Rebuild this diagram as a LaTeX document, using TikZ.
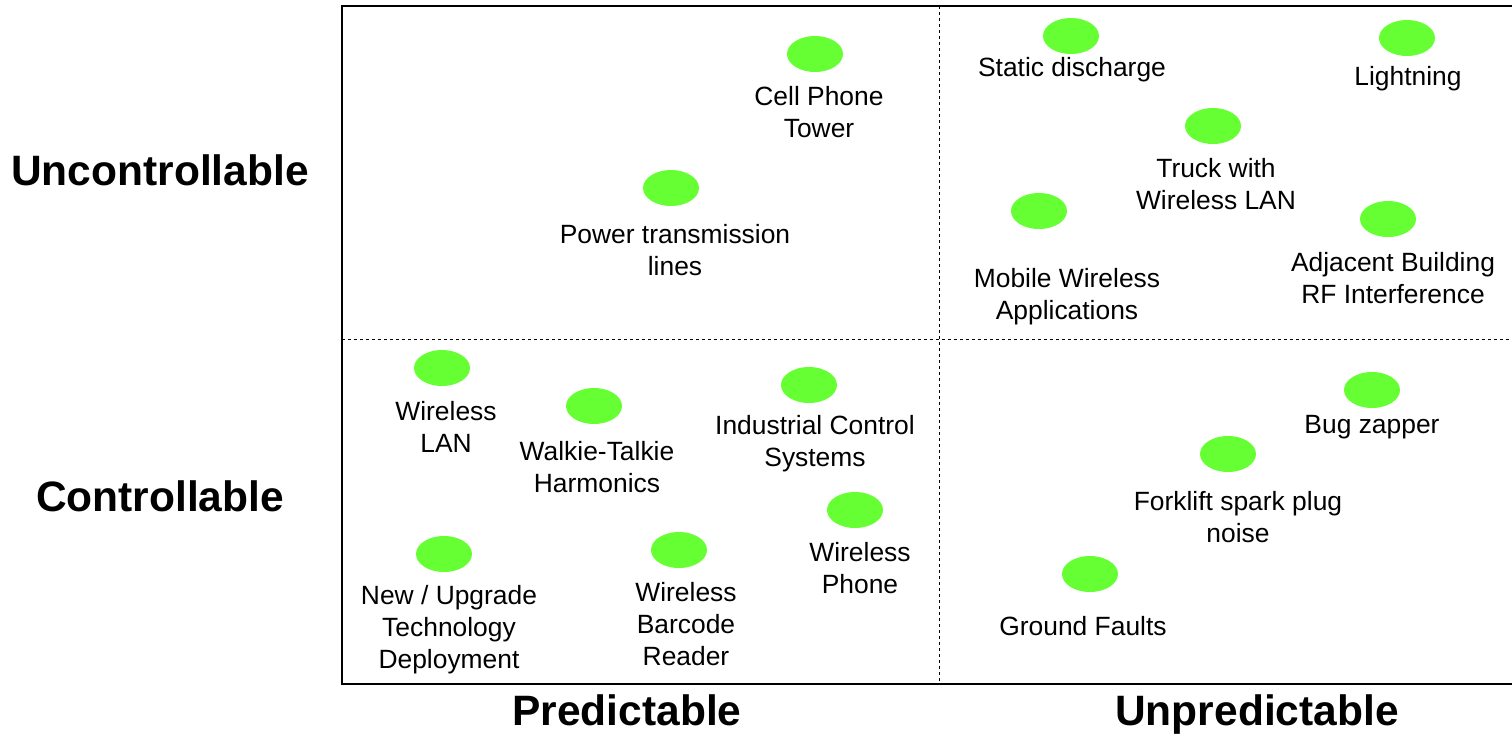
\documentclass[tikz,border=0pt]{standalone}
\usepackage{fontspec}
\setmainfont{Liberation Sans}
\usepackage{xcolor}
\usepackage{tikz}
\usetikzlibrary{shapes.geometric, positioning}

\definecolor{blobgreen}{RGB}{102,255,51}

\tikzset{
  blob/.style={ellipse, fill=blobgreen, minimum width=28pt, minimum height=18pt, inner sep=0pt},
  tag/.style={align=center, inner sep=0pt, font=\fontsize{13.2}{16}\selectfont},
  axis/.style={font=\fontsize{21.25}{25}\selectfont\bfseries, inner sep=0pt},
  split/.style={dash pattern=on 1.5pt off 1.5pt, line width=0.5pt}
}

\begin{document}
\begin{tikzpicture}[x={(0.5pt,0)}, y={(0,-0.5pt)}]
\useasboundingbox (0,0) rectangle (1512,735);

% frame and quadrants
\coordinate (tl) at (342,6);
\coordinate (bl) at (342,684);
\coordinate (tr) at (1512,6);
\coordinate (br) at (1512,684);
\coordinate (vtop) at (939,6);
\coordinate (vbot) at (939,684);
\coordinate (hl) at (342,339);
\coordinate (hr) at (1512,339);
\draw[line width=1pt] (tr) -- (tl) -- (bl) -- (br);
\draw[split] (vtop) -- (vbot);
\draw[split] (hl) -- (hr);

% axis labels
\node[axis] (unctrl) at (160,170) {Uncontrollable};
\node[axis] (ctrl) at (160,496) {Controllable};
\node[axis, anchor=base] (pred) at (627,725) {Predictable};
\node[axis, anchor=base] (unpred) at (1257,725) {Unpredictable};

% sources
\foreach \n/\ex/\ey/\tx/\ty/\t in {
    cell/815/54/819/112/{Cell Phone\\Tower},
    power/671/188/675/250/{Power transmission\\lines},
    static/1071/36/1072/70/{Static discharge},
    light/1407/38/1408/79/{Lightning},
    truck/1213/126/1216/184/{Truck with\\Wireless LAN},
    mobile/1039/211/1067/297/{Mobile Wireless\\Applications},
    adj/1388/219/1393/278/{Adjacent Building\\RF Interference},
    wlan/442/368/446/427/{Wireless\\LAN},
    walkie/594/406/597/467/{Walkie-Talkie\\Harmonics},
    ind/809/385/815/444/{Industrial Control\\Systems},
    phone/855/510/860/568/{Wireless\\Phone},
    upgrade/444/554/449/630/{New / Upgrade\\Technology\\Deployment},
    barcode/679/550/686/624/{Wireless\\Barcode\\Reader},
    bug/1372/390/1372/427/{Bug zapper},
    fork/1228/454/1238/517/{Forklift spark plug\\noise},
    ground/1090/574/1083/626/{Ground Faults}} {
    \node[blob] (b-\n) at (\ex,\ey) {};
    \node[tag] (t-\n) at (\tx,\ty) {\t};
}
\end{tikzpicture}
\end{document}
